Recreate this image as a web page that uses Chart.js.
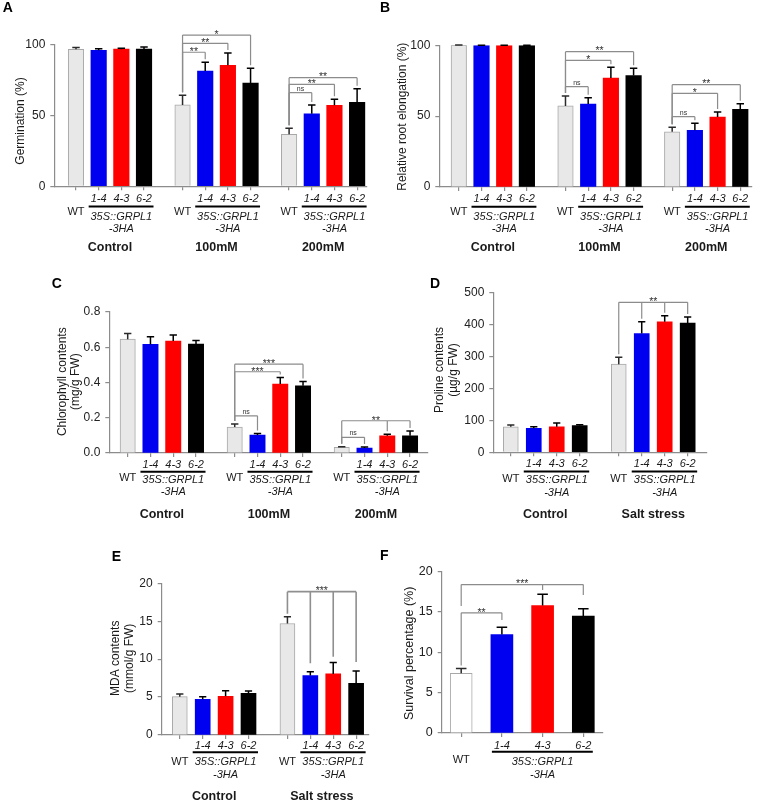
<!DOCTYPE html>
<html><head><meta charset="utf-8">
<script src="https://cdn.jsdelivr.net/npm/chart.js@4/dist/chart.umd.min.js"></script>
<style>
html,body{margin:0;padding:0;background:#fff;}
body{width:759px;height:800px;position:relative;overflow:hidden;}
canvas{position:absolute;}
</style></head><body>
<canvas id="cA"></canvas><canvas id="cB"></canvas><canvas id="cC"></canvas>
<canvas id="cD"></canvas><canvas id="cE"></canvas><canvas id="cF"></canvas>
<script>
// ---------- DATA ----------
const lineNames = ['WT', '1-4', '4-3', '6-2'];
const transgeneLabel = ['35S::GRPL1', '-3HA'];
const groups3 = ['Control', '100mM', '200mM'];
const groups2 = ['Control', 'Salt stress'];

// A: Germination (%)
const germControl = [96.5, 95.8, 96.6, 96.6];
const germControlErr = [1.3, 1.0, 0.6, 1.5];
const germ100 = [57.3, 81.2, 85.2, 72.7];
const germ100Err = [6.8, 6.1, 8.7, 10.4];
const germ200 = [36.6, 51.1, 57.0, 59.2];
const germ200Err = [4.2, 6.2, 4.3, 9.5];

// B: Relative root elongation (%)
const rootControl = [100, 99.8, 99.8, 99.8];
const rootControlErr = [0.2, 0.3, 0.2, 0.2];
const root100 = [57.2, 58.6, 76.9, 78.6];
const root100Err = [7.0, 4.4, 7.6, 5.2];
const root200 = [39.0, 40.0, 49.4, 54.8];
const root200Err = [3.1, 5.0, 3.6, 4.0];

// C: Chlorophyll contents (mg/g FW)
const chlControl = [0.646, 0.616, 0.635, 0.618];
const chlControlErr = [0.032, 0.043, 0.034, 0.020];
const chl100 = [0.147, 0.102, 0.391, 0.381];
const chl100Err = [0.017, 0.009, 0.038, 0.025];
const chl200 = [0.032, 0.028, 0.098, 0.098];
const chl200Err = [0.004, 0.006, 0.008, 0.027];

// D: Proline contents (ug/g FW)
const proControl = [80, 75, 80, 83.5];
const proControlErr = [5.5, 5, 12, 3];
const proSalt = [276, 372, 409, 405];
const proSaltErr = [22, 37, 19, 19];

// E: MDA contents (mmol/g FW)
const mdaControl = [5.05, 4.7, 5.1, 5.5];
const mdaControlErr = [0.35, 0.35, 0.75, 0.3];
const mdaSalt = [14.7, 7.83, 8.05, 6.8];
const mdaSaltErr = [0.9, 0.5, 1.5, 1.65];

// F: Survival percentage (%)
const survival = [7.4, 12.2, 15.8, 14.5];
const survivalErr = [0.6, 0.9, 1.4, 0.9];

// ---------- STYLE ----------
const FF = '"Liberation Sans", Arial, Helvetica, sans-serif';
Chart.defaults.font.family = FF;
const FILL = ['#e8e8e8', '#0000f0', '#ff0000', '#000000'];
const AXIS = '#8c8c8c';
const TXT = '#1a1a1a';

const PANELS = [
  { canvas:'cA', off:[0,0], size:[380,265], letter:'A', letterPos:[2.7,11.7],
    area:{l:54.3,r:366.7,t:44.3,b:186.3}, y:{max:100,step:50,dec:0}, tickSize:12,
    groupNames:groups3, values:[germControl,germ100,germ200], errs:[germControlErr,germ100Err,germ200Err],
    firstCenter:76, step:22.67, gap:0.7, bw:15.5,
    title:{lines:['Germination (%)'], xs:[20.7], yc:121, size:12},
    lab:{line:12.8, under:20.3, wt:25.3, t1:30.3, t2:43, group:61},
    brackets:[
      {g:1, level:94.4, legs:[0,1], text:'**'},
      {g:1, level:100.7, legs:[0,2], text:'**'},
      {g:1, level:106.5, legs:[0,3], text:'*'},
      {g:2, level:65.9, legs:[0,1], text:'ns'},
      {g:2, level:71.8, legs:[0,2], text:'**'},
      {g:2, level:76.5, legs:[0,3], text:'**'} ] },
  { canvas:'cB', off:[380,0], size:[379,265], letter:'B', letterPos:[380,11.7],
    area:{l:439.3,r:752,t:45.3,b:187}, y:{max:100,step:50,dec:0}, tickSize:12,
    groupNames:groups3, values:[rootControl,root100,root200], errs:[rootControlErr,root100Err,root200Err],
    firstCenter:458.8, step:22.7, gap:0.7, bw:15.5,
    title:{lines:['Relative root elongation (%)'], xs:[402.7], yc:116.7, size:12},
    lab:{line:12.3, under:19.7, wt:24.7, t1:29.7, t2:42.3, group:60.3},
    brackets:[
      {g:1, level:70.8, legs:[0,1], text:'ns'},
      {g:1, level:89.4, legs:[0,2], text:'*'},
      {g:1, level:95.5, legs:[0,3], text:'**'},
      {g:2, level:49.6, legs:[0,1], text:'ns'},
      {g:2, level:66.1, legs:[0,2], text:'*'},
      {g:2, level:72.2, legs:[0,3], text:'**'} ] },
  { canvas:'cC', off:[0,265], size:[445,270], letter:'C', letterPos:[51.7,288.3],
    area:{l:109.3,r:428,t:312,b:453}, y:{max:0.8,step:0.2,dec:1}, tickSize:12,
    groupNames:groups3, values:[chlControl,chl100,chl200], errs:[chlControlErr,chl100Err,chl200Err],
    firstCenter:127.7, step:22.77, gap:0.7, bw:15.3,
    title:{lines:['Chlorophyll contents','(mg/g FW)'], xs:[62.7,76], yc:381.7, size:12},
    lab:{line:12, under:18.7, wt:25, t1:26.5, t2:38.5, group:61.3},
    brackets:[
      {g:1, level:0.211, legs:[0,1], text:'ns'},
      {g:1, level:0.461, legs:[0,2], text:'***'},
      {g:1, level:0.504, legs:[0,3], text:'***'},
      {g:2, level:0.089, legs:[0,1], text:'ns'},
      {g:2, level:0.183, legs:[0,2,3], text:'**'} ] },
  { canvas:'cD', off:[425,265], size:[334,270], letter:'D', letterPos:[430,288.3],
    area:{l:493.3,r:706.7,t:292.7,b:452.3}, y:{max:500,step:100,dec:0}, tickSize:12,
    groupNames:groups2, values:[proControl,proSalt], errs:[proControlErr,proSaltErr],
    firstCenter:510.8, step:22.97, gap:0.7, bw:15,
    title:{lines:['Proline contents','(\u00b5g/g FW)'], xs:[440,453.3], yc:370, size:12},
    lab:{line:11.7, under:19.3, wt:27, t1:27.7, t2:40.3, group:62},
    brackets:[
      {g:1, level:470, legs:[0,1,2,3], text:'**'} ] },
  { canvas:'cE', off:[0,535], size:[380,265], letter:'E', letterPos:[111.7,560.7],
    area:{l:161.7,r:368.3,t:583.3,b:735}, y:{max:20,step:5,dec:0}, tickSize:12,
    groupNames:groups2, values:[mdaControl,mdaSalt], errs:[mdaControlErr,mdaSaltErr],
    firstCenter:179.8, step:22.9, gap:0.7, bw:15,
    title:{lines:['MDA contents','(mmol/g FW)'], xs:[116,130], yc:658.3, size:12},
    lab:{line:10.7, under:17.3, wt:26.7, t1:26.7, t2:40, group:61.7},
    brackets:[
      {g:1, level:18.9, legs:[0,{i:1,end:9.46},{i:2,end:10.33},{i:3,end:9.63}], text:'***', wide:true} ] },
  { canvas:'cF', off:[380,535], size:[379,265], letter:'F', letterPos:[380,560],
    area:{l:441.7,r:602.7,t:571.7,b:733}, y:{max:20,step:5,dec:0}, tickSize:12.5,
    groupNames:null, values:[survival], errs:[survivalErr], whiteWT:true,
    firstCenter:461.2, step:40.7, gap:0, bw:22,
    title:{lines:['Survival percentage (%)'], xs:[410], yc:653.3, size:12.5},
    lab:{line:12.7, under:18.7, wt:27, t1:28.7, t2:42, group:0},
    brackets:[
      {g:0, level:14.9, legs:[0,{i:1,end:14.0}], text:'**'},
      {g:0, level:18.4, legs:[{i:0,end:15.75},{i:2,end:17.74},{i:3,end:17.12}], text:'***'} ] }
];

function pos(P, g, j) { return g * (4 + P.gap) + j; }

function decoPlugin(P) {
  return {
    id: 'deco_' + P.canvas,
    afterDraw(chart) {
      const ctx = chart.ctx, xs = chart.scales.x, ys = chart.scales.y;
      const [ox, oy] = P.off;
      const X = v => xs.getPixelForValue(v) + ox;
      const Y = v => ys.getPixelForValue(v) + oy;
      const axisY = Y(0);
      ctx.save();
      ctx.translate(-ox, -oy);
      // error bars
      P.values.forEach((vals, g) => vals.forEach((v, j) => {
        const e = P.errs[g][j], x = X(pos(P, g, j));
        const y0 = Y(v), y1 = Y(v + e), hw = P.bw * 0.24;
        ctx.strokeStyle = j === 0 ? '#2a2a2a' : '#000';
        ctx.lineWidth = 1.5;
        ctx.beginPath();
        ctx.moveTo(x, y0); ctx.lineTo(x, y1);
        ctx.moveTo(x - hw, y1); ctx.lineTo(x + hw, y1);
        ctx.stroke();
      }));
      // significance brackets
      P.brackets.forEach(b => {
        const ly = Y(b.level);
        const legs = b.legs.map(l => typeof l === 'number' ? {i: l} : l);
        const lx = legs.map(l => X(pos(P, b.g, l.i)));
        ctx.strokeStyle = b.wide ? '#8f8f8f' : '#8c8c8c';
        ctx.lineWidth = b.wide ? 1.6 : 1.2;
        ctx.beginPath();
        ctx.moveTo(Math.min(...lx), ly); ctx.lineTo(Math.max(...lx), ly);
        legs.forEach((l, k) => {
          const v = P.values[b.g][l.i], e = P.errs[b.g][l.i];
          const end = l.end !== undefined ? Y(l.end) : Y(v + e) - 3;
          ctx.moveTo(lx[k], ly); ctx.lineTo(lx[k], end);
        });
        ctx.stroke();
        const cx = (Math.min(...lx) + Math.max(...lx)) / 2;
        ctx.fillStyle = '#333';
        ctx.textAlign = 'center';
        ctx.textBaseline = 'alphabetic';
        if (b.text === 'ns') { ctx.font = '7px ' + FF; ctx.fillText('ns', cx, ly - 2); }
        else { ctx.font = '10.5px ' + FF; ctx.fillText(b.text, cx, ly + 2.8); }
      });
      // x labels
      ctx.fillStyle = TXT;
      ctx.textAlign = 'center';
      ctx.textBaseline = 'middle';
      P.values.forEach((vals, g) => {
        const x0 = X(pos(P, g, 0)), x1 = X(pos(P, g, 1)), x3 = X(pos(P, g, 3));
        ctx.font = '11px ' + FF;
        ctx.fillText(lineNames[0], x0, axisY + P.lab.wt);
        ctx.font = 'italic 11px ' + FF;
        for (let j = 1; j < 4; j++) ctx.fillText(lineNames[j], X(pos(P, g, j)), axisY + P.lab.line);
        ctx.fillText(transgeneLabel[0], (x1 + x3) / 2, axisY + P.lab.t1);
        ctx.fillText(transgeneLabel[1], (x1 + x3) / 2, axisY + P.lab.t2);
        ctx.strokeStyle = '#000'; ctx.lineWidth = 2;
        ctx.beginPath(); ctx.moveTo(x1 - 10, axisY + P.lab.under); ctx.lineTo(x3 + 9.5, axisY + P.lab.under); ctx.stroke();
        if (P.groupNames) {
          ctx.font = 'bold 12.5px ' + FF;
          ctx.fillText(P.groupNames[g], (x0 + x3) / 2, axisY + P.lab.group);
        }
      });
      // y title
      P.title.lines.forEach((t, k) => {
        ctx.save();
        ctx.translate(P.title.xs[k], P.title.yc);
        ctx.rotate(-Math.PI / 2);
        ctx.font = P.title.size + 'px ' + FF;
        ctx.fillStyle = TXT; ctx.textAlign = 'center'; ctx.textBaseline = 'middle';
        ctx.fillText(t, 0, 0);
        ctx.restore();
      });
      // panel letter
      ctx.font = 'bold 14px ' + FF;
      ctx.fillStyle = '#000'; ctx.textAlign = 'left'; ctx.textBaseline = 'alphabetic';
      ctx.fillText(P.letter, P.letterPos[0], P.letterPos[1]);
      ctx.restore();
    }
  };
}

const YW = 40, XH = 4;
PANELS.forEach(P => {
  const cv = document.getElementById(P.canvas);
  const [ox, oy] = P.off, [w, h] = P.size;
  cv.width = w; cv.height = h;
  cv.style.left = ox + 'px'; cv.style.top = oy + 'px';
  cv.style.width = w + 'px'; cv.style.height = h + 'px';
  const pts = [], bg = [], bc = [], bwid = [], xticks = [];
  P.values.forEach((vals, g) => vals.forEach((v, j) => {
    const x = pos(P, g, j);
    pts.push({x: x, y: v}); xticks.push(x);
    bg.push(j === 0 && P.whiteWT ? '#ffffff' : FILL[j]);
    bc.push(j === 0 ? '#a8a8a8' : FILL[j]);
    bwid.push(j === 0 ? 1 : 0);
  }));
  const xmin = (P.area.l - P.firstCenter) / P.step;
  const xmax = (P.area.r - P.firstCenter) / P.step;
  new Chart(cv, {
    type: 'bar',
    data: { datasets: [{ data: pts, backgroundColor: bg, borderColor: bc, borderWidth: bwid, barThickness: P.bw }] },
    options: {
      responsive: false, animation: false, maintainAspectRatio: false,
      events: [],
      layout: { padding: { left: P.area.l - ox - YW, top: P.area.t - oy, right: ox + w - P.area.r, bottom: oy + h - P.area.b - XH } },
      plugins: { legend: { display: false }, tooltip: { enabled: false } },
      scales: {
        x: {
          type: 'linear', min: xmin, max: xmax, offset: false,
          afterBuildTicks: s => { s.ticks = xticks.map(v => ({ value: v })); },
          afterFit: s => { s.height = XH; },
          ticks: { display: false },
          grid: { offset: false, drawOnChartArea: false, drawTicks: true, tickLength: 4, color: AXIS, lineWidth: 1.2 },
          border: { color: AXIS, width: 1.2 }
        },
        y: {
          min: 0, max: P.y.max,
          afterFit: s => { s.width = YW; },
          ticks: { stepSize: P.y.step, padding: 5, color: '#222', font: { size: P.tickSize, family: FF },
                   callback: v => Number(v).toFixed(P.y.dec) },
          grid: { drawOnChartArea: false, drawTicks: true, tickLength: 4, color: AXIS, lineWidth: 1.2 },
          border: { color: AXIS, width: 1.2 }
        }
      }
    },
    plugins: [decoPlugin(P)]
  });
});
</script>
</body></html>
